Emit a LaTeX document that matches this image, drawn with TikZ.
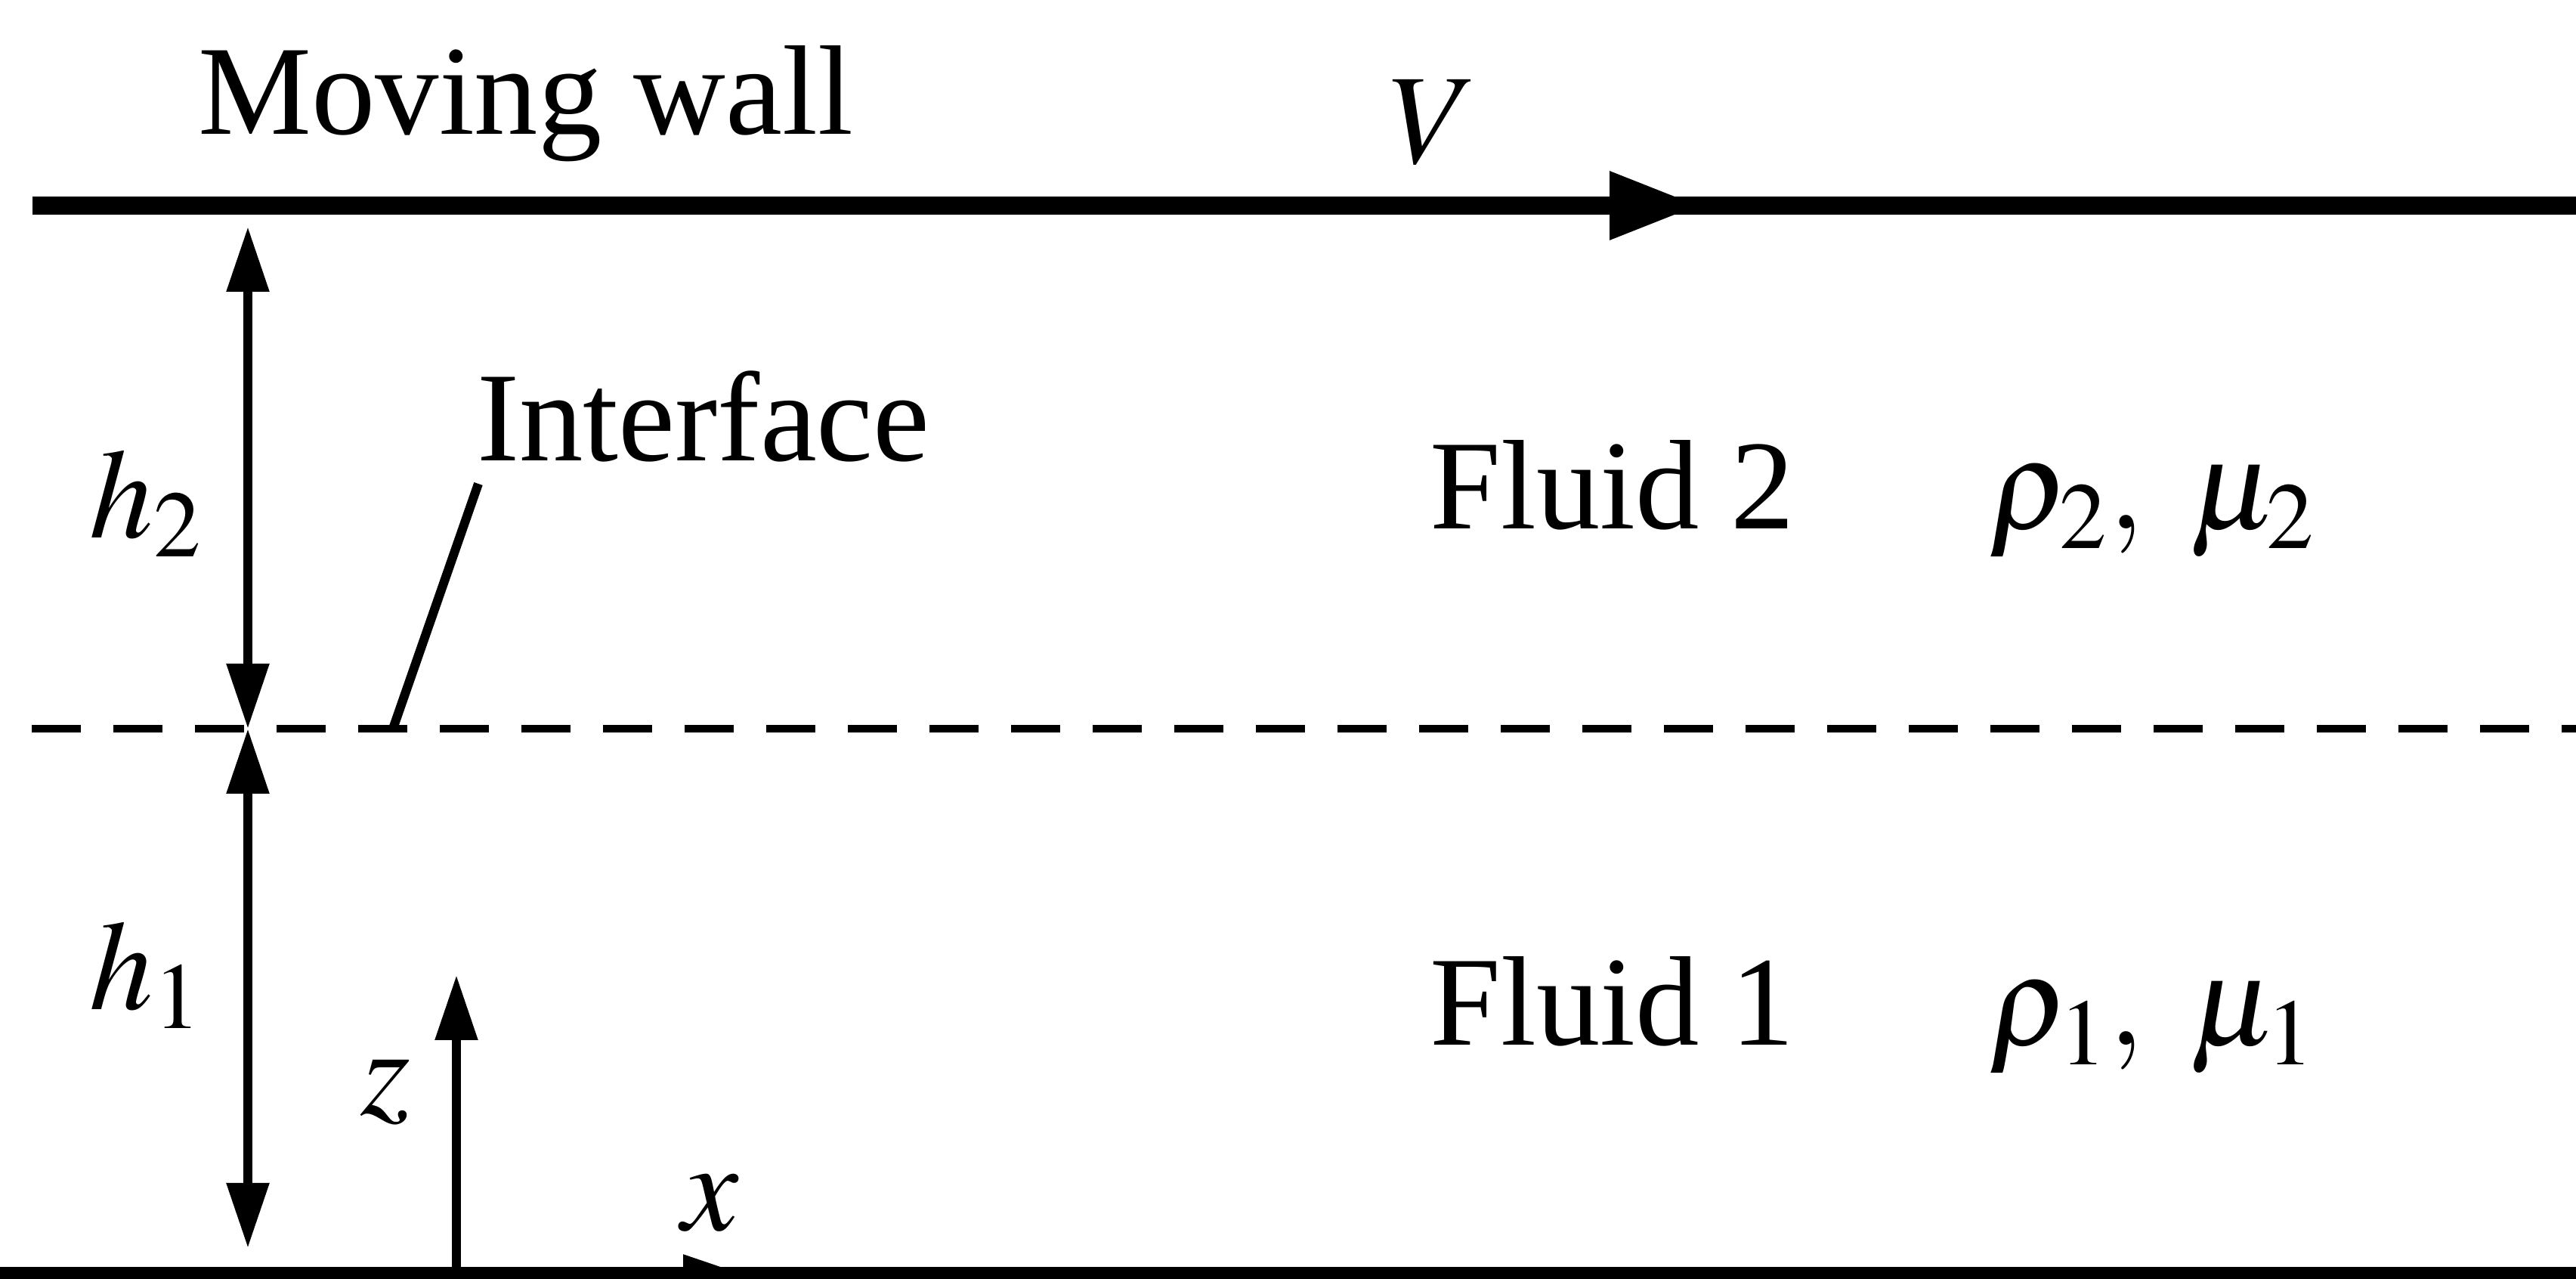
\documentclass[tikz,border=0pt]{standalone}
\usepackage{mathptmx}
\usepackage{fontspec}
\setmainfont{Liberation Serif}
\usetikzlibrary{arrows.meta}

\begin{document}
\begin{tikzpicture}[font=\fontsize{24}{28}\selectfont,
  wall/.style={line width=3.5pt},
  dim/.style={line width=1.7pt,{Triangle[length=4.3mm,width=2.7mm]}-{Triangle[length=4.3mm,width=2.7mm]}},
  axis/.style={line width=1.7pt,-{Triangle[length=4.3mm,width=2.7mm]}},
  lbl/.style={inner sep=0pt}]
\useasboundingbox (0,0) rectangle (17.045,8.46);

\pgfmathsetmacro{\ytop}{7.10}
\pgfmathsetmacro{\yint}{3.64}
\pgfmathsetmacro{\ybot}{0.02}

% walls and interface
\coordinate (wl) at (0.215,\ytop);
\coordinate (wr) at (17.1,\ytop);
\coordinate (wv) at (11.25,\ytop);
\coordinate (il) at (0.21,\yint);
\coordinate (ir) at (17.1,\yint);
\coordinate (bl) at (0,\ybot);
\coordinate (br) at (17.1,\ybot);

\draw[wall] (wl) -- (wr);
\draw[wall,-{Triangle[length=6mm,width=4.2mm]}] (wl) -- (wv);
\draw[line width=1.4pt,dash pattern=on 3.25mm off 2.15mm] (il) -- (ir);
\draw[wall] (bl) -- (br);

% layer thicknesses
\coordinate (ht) at (1.64,6.96);
\coordinate (hm) at (1.64,\yint);
\coordinate (hb) at (1.64,0.205);
\draw[dim] (ht) -- (hm);
\draw[dim] (hm) -- (hb);

% axes
\coordinate (o) at (3.02,\ybot);
\coordinate (ze) at (3.02,2.01);
\coordinate (xe) at (4.95,\ybot);
\draw[axis] (o) -- (ze);
\draw[axis] (o) -- (xe);

% labels
\node[lbl,anchor=base west] (mw) at (1.305,7.57) {Moving wall};
\node[lbl,anchor=base] (vel) at (9.485,7.38) {$V$};
\node (h2) at (0.97,5.13) {$h_2$};
\node (h1) at (0.97,2.01) {$h_1$};
\node[lbl,anchor=base west] (intf) at (3.15,5.41) {Interface};
\coordinate (lt) at (3.165,5.26);
\coordinate (lb) at (2.6,\yint);
\draw[line width=1.7pt] (lt) -- (lb);
\node[lbl,anchor=base west] (f2) at (9.455,4.96) {Fluid 2};
\node[lbl,anchor=base west] (p2) at (13.155,4.96) {$\rho_2,\ \mu_2$};
\node[lbl,anchor=base west] (f1) at (9.455,1.545) {Fluid 1};
\node[lbl,anchor=base west] (p1) at (13.155,1.545) {$\rho_1,\ \mu_1$};
\node (zl) at (2.55,1.235) {$z$};
\node (xl) at (4.7,0.5) {$x$};

\end{tikzpicture}
\end{document}
